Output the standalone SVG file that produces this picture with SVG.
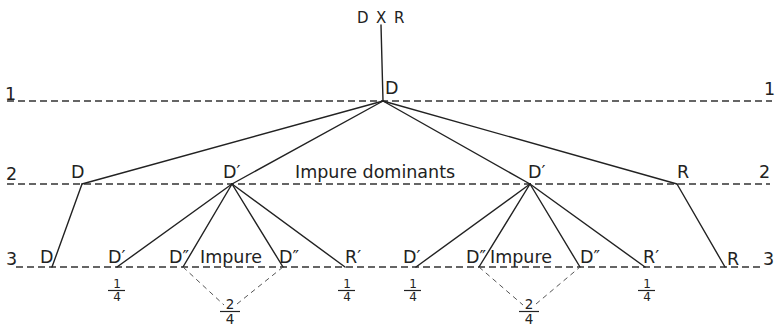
<svg xmlns="http://www.w3.org/2000/svg" width="776" height="326" viewBox="0 0 776 326">
<style>
text{font-family:"DejaVu Sans","Liberation Sans",sans-serif;fill:#222;}
.lb{font-size:17.5px;}
.top{font-size:15px;}
.fr{font-size:12px;text-anchor:middle;}
.fr2{font-size:13.5px;text-anchor:middle;}
.lvl{stroke:#333;stroke-width:1.4;stroke-dasharray:7 4;fill:none;}
.edge{stroke:#222;stroke-width:1.4;fill:none;stroke-linecap:round;}
.dia{stroke:#555;stroke-width:1;stroke-dasharray:5 4;fill:none;}
.bar{stroke:#222;stroke-width:1.2;}
</style>
<rect width="776" height="326" fill="#fff"/>
<g id="levels">
<line class="lvl" x1="7" y1="101" x2="772" y2="101"/>
<line class="lvl" x1="7" y1="184" x2="770" y2="184"/>
<line class="lvl" x1="16" y1="267" x2="763" y2="267"/>
<text class="lb" x="5" y="100">1</text>
<text class="lb" x="764" y="95">1</text>
<text class="lb" x="6" y="180">2</text>
<text class="lb" x="759" y="178">2</text>
<text class="lb" x="6" y="265">3</text>
<text class="lb" x="763" y="265">3</text>
</g>
<g id="connectors">
<line class="edge" x1="381" y1="25" x2="383" y2="101"/>
<line class="edge" x1="383" y1="101" x2="82" y2="184"/>
<line class="edge" x1="383" y1="101" x2="232" y2="184"/>
<line class="edge" x1="383" y1="101" x2="530" y2="184"/>
<line class="edge" x1="383" y1="101" x2="677" y2="184"/>
<line class="edge" x1="82" y1="184" x2="52" y2="267"/>
<line class="edge" x1="677" y1="184" x2="725" y2="267"/>
<line class="edge" x1="232" y1="184" x2="117" y2="267"/>
<line class="edge" x1="232" y1="184" x2="183" y2="267"/>
<line class="edge" x1="232" y1="184" x2="283" y2="267"/>
<line class="edge" x1="232" y1="184" x2="345" y2="267"/>
<line class="edge" x1="530" y1="184" x2="416" y2="267"/>
<line class="edge" x1="530" y1="184" x2="479" y2="267"/>
<line class="edge" x1="530" y1="184" x2="580" y2="267"/>
<line class="edge" x1="530" y1="184" x2="645" y2="267"/>
<line class="dia" x1="183" y1="267" x2="224" y2="305"/>
<line class="dia" x1="237" y1="304" x2="283" y2="267"/>
<line class="dia" x1="479" y1="267" x2="523" y2="305"/>
<line class="dia" x1="536" y1="304" x2="580" y2="267"/>
</g>
<g id="cross">
<text class="top" x="357" y="23">D</text>
<text class="top" x="376" y="23">X</text>
<text class="top" x="394" y="23">R</text>
</g>
<g id="n1-D"><text class="lb" x="385" y="94">D</text></g>
<g id="n2-D"><text class="lb" x="71" y="178">D</text></g>
<g id="n2-D1"><text class="lb" x="223" y="178">D′</text></g>
<g id="label-impure-dominants"><text class="lb" x="295" y="178">Impure dominants</text></g>
<g id="n2-D2"><text class="lb" x="528" y="178">D′</text></g>
<g id="n2-R"><text class="lb" x="677" y="178">R</text></g>
<g id="n3-D"><text class="lb" x="40" y="263">D</text></g>
<g id="n3-D1a"><text class="lb" x="108" y="263">D′</text>
<text class="fr" x="117" y="288">1</text><line class="bar" x1="108" y1="290.5" x2="125" y2="290.5"/><text class="fr" x="117" y="301">4</text></g>
<g id="n3-D2a"><text class="lb" x="169" y="263">D″</text></g>
<g id="label-impure-1"><text class="lb" x="200" y="263">Impure</text>
<text class="fr2" x="230" y="309">2</text><line class="bar" x1="220" y1="311.5" x2="240" y2="311.5"/><text class="fr2" x="230" y="324">4</text></g>
<g id="n3-D2b"><text class="lb" x="279" y="263">D″</text></g>
<g id="n3-R1a"><text class="lb" x="345" y="263">R′</text>
<text class="fr" x="347" y="288">1</text><line class="bar" x1="338" y1="290.5" x2="355" y2="290.5"/><text class="fr" x="347" y="301">4</text></g>
<g id="n3-D1b"><text class="lb" x="403" y="263">D′</text>
<text class="fr" x="413" y="288">1</text><line class="bar" x1="404" y1="290.5" x2="421" y2="290.5"/><text class="fr" x="413" y="301">4</text></g>
<g id="n3-D2c"><text class="lb" x="466" y="263">D″</text></g>
<g id="label-impure-2"><text class="lb" x="490" y="263">Impure</text>
<text class="fr2" x="529" y="309">2</text><line class="bar" x1="519" y1="311.5" x2="539" y2="311.5"/><text class="fr2" x="529" y="324">4</text></g>
<g id="n3-D2d"><text class="lb" x="580" y="263">D″</text></g>
<g id="n3-R1b"><text class="lb" x="643" y="263">R′</text>
<text class="fr" x="647" y="288">1</text><line class="bar" x1="638" y1="290.5" x2="655" y2="290.5"/><text class="fr" x="647" y="301">4</text></g>
<g id="n3-R"><text class="lb" x="727" y="265">R</text></g>
</svg>
